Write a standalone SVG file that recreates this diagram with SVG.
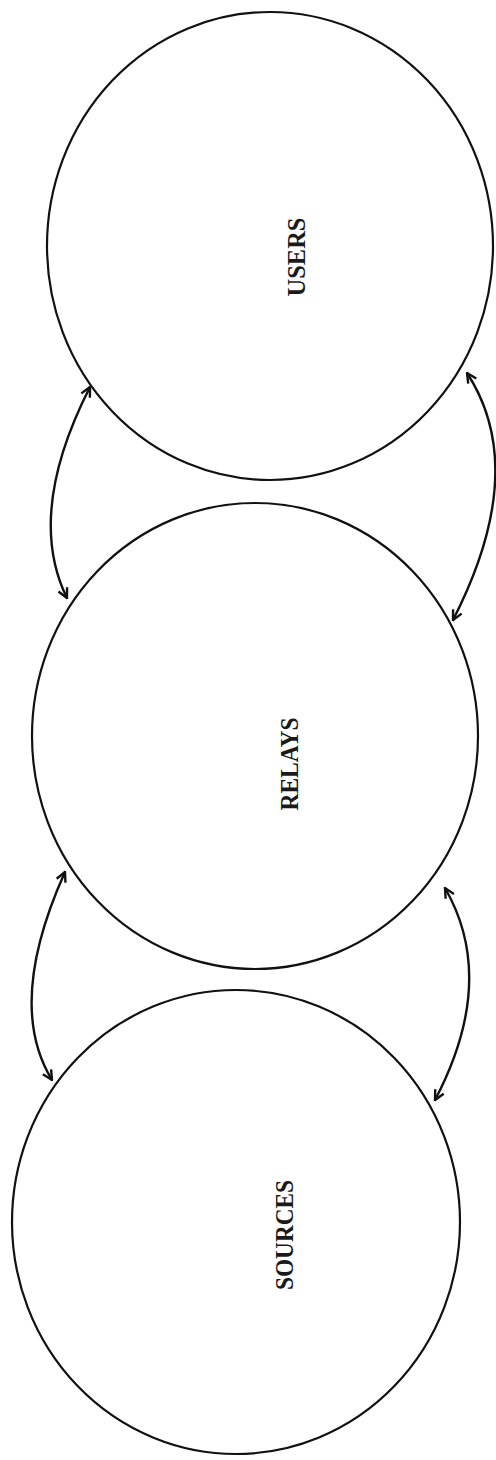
<svg xmlns="http://www.w3.org/2000/svg" width="496" height="1460" viewBox="0 0 496 1460">
<style>
.node{fill:none;stroke:#111;stroke-width:2.2}
.lbl{font-family:"Liberation Serif","Times New Roman",serif;font-weight:bold;font-size:26px;fill:#1a1a1a;text-anchor:middle}
.conn{fill:none;stroke:#111;stroke-width:2.4;marker-start:url(#ah);marker-end:url(#ah)}
</style>
<defs>
<marker id="ah" viewBox="0 0 10 10" refX="9" refY="5" markerWidth="5" markerHeight="5" orient="auto-start-reverse" markerUnits="strokeWidth">
<path d="M1,1 L9,5 L1,9" fill="none" stroke="#111" stroke-width="2"/>
</marker>
</defs>
<rect width="496" height="1460" fill="#fff"/>
<g id="users">
<ellipse class="node" cx="270" cy="246" rx="223" ry="234"/>
<text class="lbl" transform="translate(305,257) rotate(-90)" textLength="79" lengthAdjust="spacingAndGlyphs">USERS</text>
</g>
<g id="relays">
<ellipse class="node" cx="255" cy="736" rx="223" ry="233"/>
<text class="lbl" transform="translate(298,764) rotate(-90)" textLength="93" lengthAdjust="spacingAndGlyphs">RELAYS</text>
</g>
<g id="sources">
<ellipse class="node" cx="236" cy="1222" rx="224" ry="232"/>
<text class="lbl" transform="translate(293,1235) rotate(-90)" textLength="110" lengthAdjust="spacingAndGlyphs">SOURCES</text>
</g>
<g id="connectors">
<path class="conn" d="M90,387 Q25.5,513.5 67,598"/>
<path class="conn" d="M467,373 Q530,469.5 453,620"/>
<path class="conn" d="M65,872 Q5.5,1004 52,1080"/>
<path class="conn" d="M445,888 Q498,980 435,1100"/>
</g>
</svg>
